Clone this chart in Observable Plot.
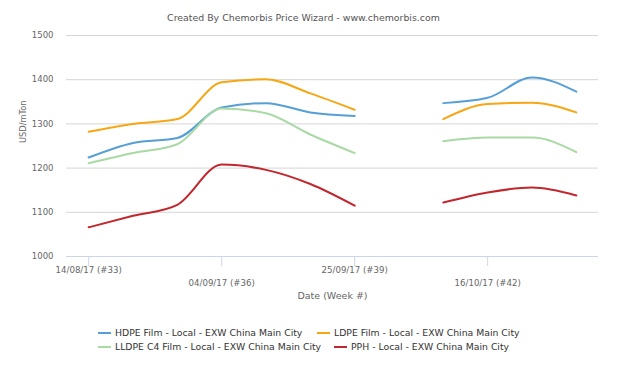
<!DOCTYPE html>
<html>
<head>
<meta charset="utf-8">
<script src="https://cdn.jsdelivr.net/npm/d3@7"></script>
<script src="https://cdn.jsdelivr.net/npm/@observablehq/plot@0.6"></script>
<style>
  html, body { margin: 0; padding: 0; background: #fff; }
  body { width: 621px; height: 369px; position: relative; overflow: hidden; font-family: "DejaVu Sans", sans-serif; }
  #title { position: absolute; left: -7px; top: 12px; width: 621px; text-align: center; font-size: 9.4px; line-height: 12px; color: #555; white-space: nowrap; }
  #chart { position: absolute; left: 0; top: 28px; }
  .leg { position: absolute; font-size: 9.3px; color: #333; white-space: nowrap; line-height: 14px; height: 14px; }
  .sym { position: absolute; left: 0; top: 6px; width: 13px; height: 2px; }
  .txt { position: absolute; left: 17px; top: 0; }
</style>
</head>
<body>
<div id="title">Created By Chemorbis Price Wizard - www.chemorbis.com</div>
<div id="chart"></div>
<div id="legend"></div>
<script>
const weeks = ["2017-08-14","2017-08-21","2017-08-28","2017-09-04","2017-09-11","2017-09-18","2017-09-25","2017-10-02","2017-10-09","2017-10-16","2017-10-23","2017-10-30"];
const seriesNames = ["HDPE Film - Local - EXW China Main City","LDPE Film - Local - EXW China Main City","LLDPE C4 Film - Local - EXW China Main City","PPH - Local - EXW China Main City"];
const seriesColors = ["#559fd6","#f7a614","#a9d9a4","#c1272d"];
const hdpe  = [1224,1257,1268,1337,1347,1326,1318,null,1347,1359,1405,1373];
const ldpe  = [1282,1300,1311,1394,1401,1369,1332,null,1311,1345,1348,1326];
const lldpe = [1211,1234,1254,1335,1324,1276,1234,null,1261,1269,1269,1236];
const pph   = [1066,1092,1117,1208,1196,1164,1115,null,1122,1145,1156,1138];
const tickDates = ["2017-08-14","2017-09-04","2017-09-25","2017-10-16"];
const tickLabels = ["14/08/17 (#33)","04/09/17 (#36)","25/09/17 (#39)","16/10/17 (#42)"];
const yTicks = [1000,1100,1200,1300,1400,1500];

const allSeries = [hdpe, ldpe, lldpe, pph];
const data = [];
allSeries.forEach((vals, s) => vals.forEach((v, i) => data.push({date: new Date(weeks[i]), value: v == null ? NaN : v, series: seriesNames[s]})));

const day = 24*3600*1000;
const d0 = new Date(weeks[0]), d1 = new Date(weeks[weeks.length-1]);
const tickObjs = tickDates.map((d, i) => ({date: new Date(d), label: tickLabels[i], row: i % 2}));
const labelFor = new Map(tickObjs.map(t => [+t.date, t.label]));

const chart = Plot.plot({
  width: 621,
  height: 282,
  marginLeft: 66,
  marginRight: 23,
  marginTop: 7,
  marginBottom: 54,
  style: {fontFamily: "DejaVu Sans, sans-serif", fontSize: "8.6px", color: "#666", background: "#fff"},
  x: {type: "utc", domain: [new Date(+d0 - 3.5*day), new Date(+d1 + 3.5*day)]},
  y: {domain: [1000, 1500]},
  color: {domain: seriesNames, range: seriesColors},
  marks: [
    Plot.gridY(yTicks, {stroke: "#d6d6d6", strokeOpacity: 1, strokeWidth: 1}),
    Plot.axisY(yTicks, {tickSize: 0, tickPadding: 13, fill: "#666", fontSize: 8.5, tickFormat: "d", label: null}),
    Plot.text(["USD/mTon"], {frameAnchor: "left", rotate: -90, dx: -43, dy: -3, fill: "#666", fontSize: 8.3}),
    Plot.ruleY([1000], {stroke: "#ccd6eb", strokeWidth: 1}),
    Plot.axisX(tickObjs.filter(t => t.row === 0).map(t => t.date), {tickSize: 10, stroke: "#ccd6eb", tickPadding: 0, fill: "#666", fontSize: 8.6,
      tickFormat: d => labelFor.get(+d), label: null}),
    Plot.axisX(tickObjs.filter(t => t.row === 1).map(t => t.date), {tickSize: 10, stroke: "#ccd6eb", tickPadding: 13, fill: "#666", fontSize: 8.6,
      tickFormat: d => labelFor.get(+d), label: null}),
    Plot.text(["Date (Week #)"], {frameAnchor: "bottom", dy: 42, fill: "#666", fontSize: 9.5}),
    Plot.line(data, {x: "date", y: "value", z: "series", stroke: "series", strokeWidth: 2, curve: "monotone-x"})
  ]
});
document.getElementById("chart").appendChild(chart);

const legendPos = [[98, 325.5],[317, 325.5],[98, 339.5],[334, 339.5]];
const legend = document.getElementById("legend");
seriesNames.forEach((name, i) => {
  const el = document.createElement("div");
  el.className = "leg";
  el.style.left = legendPos[i][0] + "px";
  el.style.top = legendPos[i][1] + "px";
  el.innerHTML = `<span class="sym" style="background:${seriesColors[i]}"></span><span class="txt">${name}</span>`;
  legend.appendChild(el);
});
</script>
</body>
</html>
